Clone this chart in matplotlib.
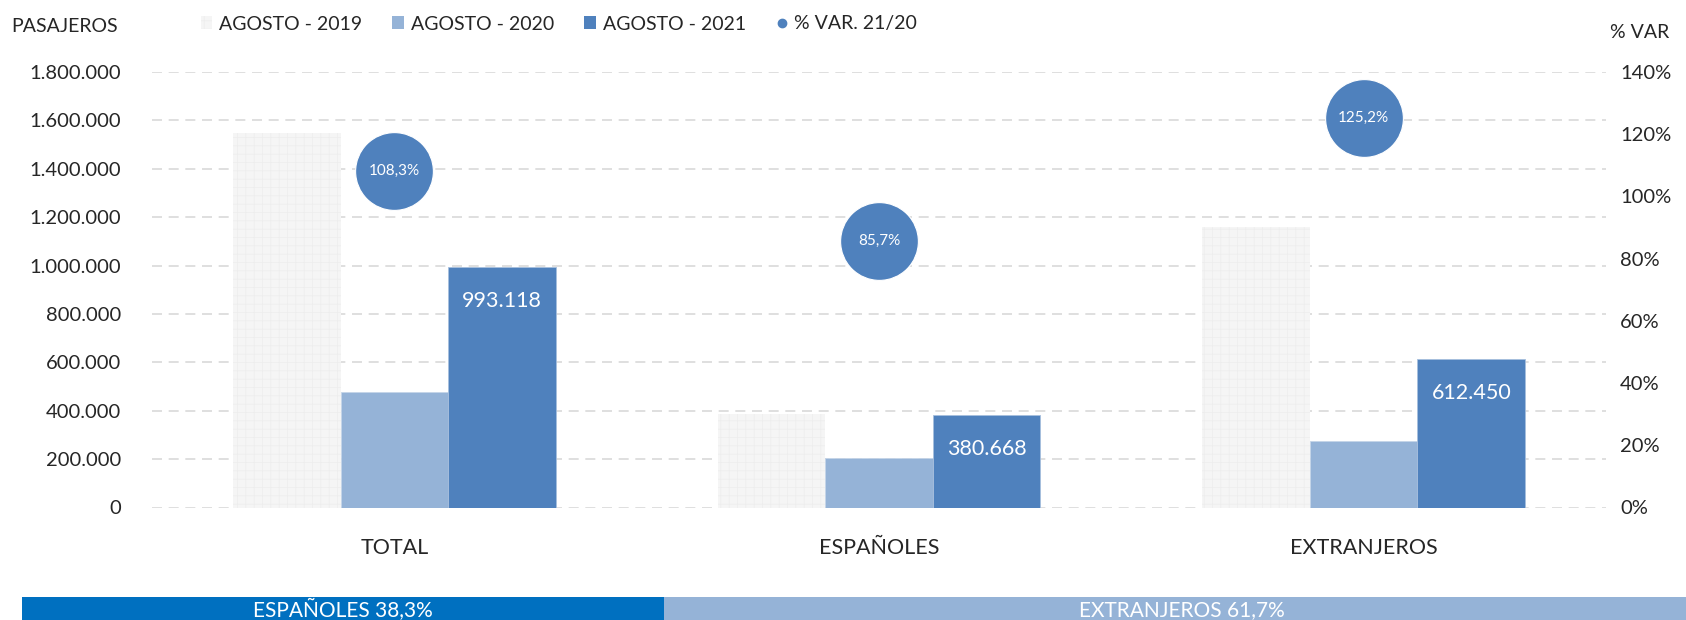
import matplotlib
matplotlib.use("Agg")
import matplotlib.pyplot as plt
from matplotlib.patches import Patch
from matplotlib.lines import Line2D
from matplotlib.ticker import FuncFormatter
import numpy as np

plt.rcParams['font.family'] = ['Lato', 'DejaVu Sans']
plt.rcParams['hatch.linewidth'] = 0.5

categories = ["TOTAL", "ESPAÑOLES", "EXTRANJEROS"]
series_names = ["AGOSTO - 2019", "AGOSTO - 2020", "AGOSTO - 2021"]
v2019 = [1548000, 387000, 1161000]
v2020 = [476000, 203000, 273000]
v2021 = [993118, 380668, 612450]
var_pct = [108.3, 85.7, 125.2]
var_labels = ["108,3%", "85,7%", "125,2%"]
share_labels = ["ESPAÑOLES 38,3%", "EXTRANJEROS 61,7%"]
share_values = [38.3, 61.7]

c2019 = "#F5F5F5"
c2020 = "#95B3D7"
c2021 = "#4F81BD"
share_colors = ["#0070C0", "#95B3D7"]
txt = "#262626"

W, H = 1686, 620
fig = plt.figure(figsize=(W / 100, H / 100), dpi=100)
ax = fig.add_axes([152 / W, 1 - 507.5 / H, (1606 - 152) / W, (507.5 - 72) / H])

x = np.arange(len(categories))
bw = 0.222
ax.bar(x - bw, v2019, bw, color=c2019, hatch="++", edgecolor="#EDEDED", linewidth=0, zorder=2)
ax.bar(x, v2020, bw, color=c2020, edgecolor="#C5D5E8", linewidth=0.6, zorder=2)
ax.bar(x + bw, v2021, bw, color=c2021, edgecolor="#A7BFDD", linewidth=0.6, zorder=2)

for xi, v in zip(x, v2021):
    s = f"{v:,}".replace(",", ".")
    ax.annotate(s, (xi + bw, v), xytext=(0, -24), textcoords="offset points",
                ha="center", va="center", color="white", fontsize=15.5, zorder=5)

ax.set_xlim(-0.5, 2.5)
ax.set_ylim(0, 1800000)
ax.set_yticks(np.arange(0, 1800001, 200000))
ax.yaxis.set_major_formatter(FuncFormatter(lambda v, p: f"{int(v):,}".replace(",", ".")))
ax.set_xticks(x)
ax.set_xticklabels(categories)
ax.tick_params(axis="y", length=0, pad=22, labelsize=14.5, labelcolor=txt)
ax.tick_params(axis="x", length=0, pad=22, labelsize=15.5, labelcolor=txt)
ax.grid(axis="y", color="#D9D9D9", linestyle=(0, (6, 4)), linewidth=1.2, zorder=0)
ax.set_axisbelow(True)
for s in ax.spines.values():
    s.set_visible(False)

ax2 = ax.twinx()
ax2.set_ylim(0, 140)
ax2.set_yticks(np.arange(0, 141, 20))
ax2.yaxis.set_major_formatter(FuncFormatter(lambda v, p: f"{int(v)}%"))
ax2.tick_params(axis="y", length=0, pad=10, labelsize=14.5, labelcolor=txt)
for s in ax2.spines.values():
    s.set_visible(False)
ax2.plot(x, var_pct, linestyle="none", marker="o", markersize=56,
         markerfacecolor=c2021, markeredgecolor="white", markeredgewidth=0.8, zorder=4)
for xi, v, lab in zip(x, var_pct, var_labels):
    ax2.text(xi, v, lab, ha="center", va="center", color="white", fontsize=11, zorder=5)

fig.text(11 / W, 1 - 27 / H, "PASAJEROS", ha="left", va="center", fontsize=14, color=txt)
fig.text(1610 / W, 1 - 32 / H, "% VAR", ha="left", va="center", fontsize=14, color=txt)

handles = [Patch(facecolor=c2019, edgecolor="#EDEDED", hatch="++", linewidth=0),
           Patch(facecolor=c2020),
           Patch(facecolor=c2021),
           Line2D([], [], linestyle="none", marker="o", markersize=6, markerfacecolor=c2021,
                  markeredgecolor=c2021)]
labels = series_names + ["% VAR. 21/20"]
fig.legend(handles, labels, loc="center left", bbox_to_anchor=(183 / W, 1 - 24 / H), ncol=4,
           frameon=False, fontsize=14, handlelength=0.6, handleheight=0.6, handletextpad=0.35,
           columnspacing=1.55, labelcolor=txt)

# bottom share bar
axb = fig.add_axes([21.5 / W, 1 - 632 / H, (1700 - 21.5) / W, 35 / H])
left = 0
for val, col, lab in zip(share_values, share_colors, share_labels):
    axb.barh(0, val, left=left, height=1, color=col, linewidth=0)
    axb.text(left + val / 2, 0.12, lab, ha="center", va="center", color="white", fontsize=15)
    left += val
axb.set_xlim(0, sum(share_values))
axb.set_ylim(-0.5, 0.5)
axb.axis("off")

fig.savefig("out.png", dpi=100)
